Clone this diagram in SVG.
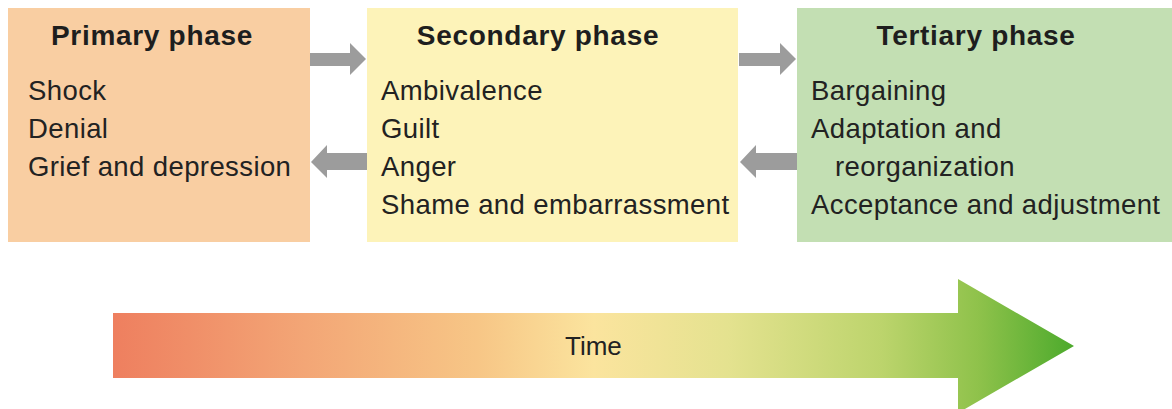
<svg xmlns="http://www.w3.org/2000/svg" width="1172" height="409" viewBox="0 0 1172 409">
  <style>
    .title { font-family: "Liberation Sans", Arial, sans-serif; font-weight: bold; font-size: 28px; letter-spacing: 0.7px; fill: #1e1e1e; text-anchor: middle; }
    .item { font-family: "Liberation Sans", Arial, sans-serif; font-size: 27.5px; letter-spacing: 0.4px; fill: #222; }
    .flow { fill: #9c9c9c; }
  </style>
  <defs>
    <linearGradient id="timeGrad" gradientUnits="userSpaceOnUse" x1="113" y1="0" x2="1074" y2="0">
      <stop offset="0" stop-color="#ee7f5f"/>
      <stop offset="0.2" stop-color="#f3a676"/>
      <stop offset="0.38" stop-color="#f7c686"/>
      <stop offset="0.5" stop-color="#fbe49e"/>
      <stop offset="0.64" stop-color="#e4e28f"/>
      <stop offset="0.8" stop-color="#bcd46c"/>
      <stop offset="0.9" stop-color="#8fc24b"/>
      <stop offset="1" stop-color="#4caa2c"/>
    </linearGradient>
  </defs>

  <rect width="1172" height="409" fill="#ffffff"/>

  <!-- phase boxes -->
  <g id="primary">
    <rect x="8" y="8" width="302" height="234" fill="#f9cea2"/>
    <text class="title" x="152" y="45">Primary phase</text>
    <text class="item" x="28" y="100">Shock</text>
    <text class="item" x="28" y="138">Denial</text>
    <text class="item" x="28" y="176">Grief and depression</text>
  </g>

  <g id="secondary">
    <rect x="367" y="8" width="371" height="234" fill="#fdf3b9"/>
    <text class="title" x="538" y="45">Secondary phase</text>
    <text class="item" x="381" y="100">Ambivalence</text>
    <text class="item" x="381" y="138">Guilt</text>
    <text class="item" x="381" y="176">Anger</text>
    <text class="item" x="381" y="214">Shame and embarrassment</text>
  </g>

  <g id="tertiary">
    <rect x="797" y="8" width="375" height="234" fill="#c3dfb3"/>
    <text class="title" x="976" y="45">Tertiary phase</text>
    <text class="item" x="811" y="100">Bargaining</text>
    <text class="item" x="811" y="138">Adaptation and</text>
    <text class="item" x="835" y="176">reorganization</text>
    <text class="item" x="811" y="214">Acceptance and adjustment</text>
  </g>

  <!-- connectors between phases -->
  <g id="connectors">
    <polygon class="flow" points="310,53 350,53 350,43 366,59 350,75 350,66 310,66"/>
    <polygon class="flow" points="367,153 327,153 327,145 311,162 327,178 327,170 367,170"/>
    <polygon class="flow" points="739,53 780,53 780,43 796,59 780,75 780,66 739,66"/>
    <polygon class="flow" points="797,153 756,153 756,145 740,162 756,178 756,170 797,170"/>
  </g>

  <!-- time axis -->
  <g id="time">
    <polygon points="113,313 958,313 958,279 1074,346 958,413 958,378 113,378" fill="url(#timeGrad)"/>
    <text x="565" y="355" font-family="'Liberation Sans', Arial, sans-serif" font-size="26" fill="#222">Time</text>
  </g>
</svg>
